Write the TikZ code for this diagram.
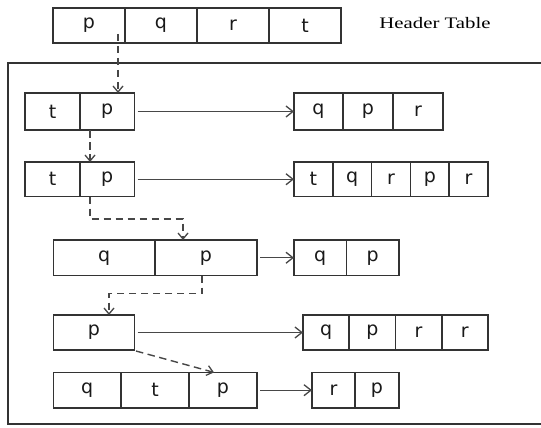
\documentclass[tikz,border=0pt]{standalone}
\usepackage{fontspec}
\setmainfont{DejaVu Sans}
\newfontfamily\hdrfont{Liberation Serif}
\usetikzlibrary{arrows.meta}
\definecolor{ln}{HTML}{333333}
\begin{document}
\begin{tikzpicture}[x=1pt,y=-1pt,
  cell/.style={draw=ln,line width=1.5pt,inner sep=0pt,outer sep=0pt,
    minimum height=#1,font=\fontsize{19}{22}\selectfont,text=black!90},
  cell/.default=35pt,
  link/.style={draw=ln!90,line width=1.3pt,-{Straight Barb[length=7pt,width=11pt,line width=1.3pt]},shorten <=3pt},
  dlink/.style={draw=ln!90,line width=1.4pt,dash pattern=on 7.5pt off 4.5pt,-{Straight Barb[length=6pt,width=10pt,line width=1.3pt]}}]
\useasboundingbox (0,0) rectangle (541,428);
% frame
\draw[ln,line width=1.6pt] (541,63) -- (8,63) -- (8,424) -- (541,424);
% header
\node[cell,minimum width=72pt] (h1) at (89,25.5) {p};
\node[cell,minimum width=72pt] (h2) at (161,25.5) {q};
\node[cell,minimum width=72pt] (h3) at (233,25.5) {r};
\node[cell,minimum width=72pt] (h4) at (305,25.5) {t};
\node[font=\hdrfont\fontsize{16}{18}\selectfont] (ht) at (435,23) {\scalebox{1.3}[1]{Header Table}};
% row 1
\node[cell=37pt,minimum width=55pt] (a1) at (52.5,111.5) {t};
\node[cell=37pt,minimum width=54.5pt] (a2) at (107.25,111.5) {p};
\node[cell=37pt,minimum width=49pt] (a3) at (318.5,111.5) {q};
\node[cell=37pt,minimum width=50pt] (a4) at (368,111.5) {p};
\node[cell=37pt,minimum width=50pt] (a5) at (418,111.5) {r};
% row 2
\node[cell=34.5pt,minimum width=55pt] (b1) at (52.5,179.25) {t};
\node[cell=34.5pt,minimum width=54.5pt] (b2) at (107.25,179.25) {p};
\node[cell=34.5pt,minimum width=38.8pt] (b3) at (313.4,179.25) {t};
\node[cell=34.5pt,minimum width=38.8pt] (b4) at (352.2,179.25) {q};
\node[cell=34.5pt,minimum width=38.8pt] (b5) at (391,179.25) {r};
\node[cell=34.5pt,minimum width=38.8pt] (b6) at (429.8,179.25) {p};
\node[cell=34.5pt,minimum width=38.8pt] (b7) at (468.6,179.25) {r};
% row 3
\node[cell=35.5pt,minimum width=101.5pt] (c1) at (104.25,257.75) {q};
\node[cell=35.5pt,minimum width=102pt] (c2) at (206,257.75) {p};
\node[cell=35.5pt,minimum width=52.5pt] (c3) at (320.25,257.75) {q};
\node[cell=35.5pt,minimum width=52.5pt] (c4) at (372.75,257.75) {p};
% row 4
\node[cell=35pt,minimum width=81pt] (d1) at (94,332.5) {p};
\node[cell=35pt,minimum width=46.25pt] (d2) at (326.1,332.5) {q};
\node[cell=35pt,minimum width=46.25pt] (d3) at (372.4,332.5) {p};
\node[cell=35pt,minimum width=46.25pt] (d4) at (418.6,332.5) {r};
\node[cell=35pt,minimum width=46.25pt] (d5) at (464.9,332.5) {r};
% row 5
\node[cell=35.6pt,minimum width=67.5pt] (e1) at (87.25,390.2) {q};
\node[cell=35.6pt,minimum width=68pt] (e2) at (155,390.2) {t};
\node[cell=35.6pt,minimum width=68pt] (e3) at (223,390.2) {p};
\node[cell=35.6pt,minimum width=43pt] (e4) at (333.5,390.2) {r};
\node[cell=35.6pt,minimum width=44pt] (e5) at (377,390.2) {p};
% solid links
\draw[link] (a2.east) -- (a3.west);
\draw[link] (b2.east) -- (b3.west);
\draw[link] (c2.east) -- (c3.west);
\draw[link] (d1.east) -- (d2.west);
\draw[link] (e3.east) -- (e4.west);
% dashed links
\coordinate (hs) at (118,34);
\draw[dlink] (hs) -- (hs |- a2.north);
\coordinate (s1) at (90,130);
\draw[dlink] (s1) -- (s1 |- b2.north);
\coordinate (s2) at (90,196.5);
\coordinate (t2) at (183,240);
\draw[dlink] (s2) -- (90,219) -- (183,219) -- (t2);
\coordinate (s3) at (202,275.5);
\coordinate (t3) at (109,315);
\draw[dlink] (s3) -- (202,293.5) -- (109,293.5) -- (t3);
\coordinate (s4) at (136,351);
\coordinate (t4) at (214,372.4);
\draw[dlink] (s4) -- (t4);
\end{tikzpicture}
\end{document}
